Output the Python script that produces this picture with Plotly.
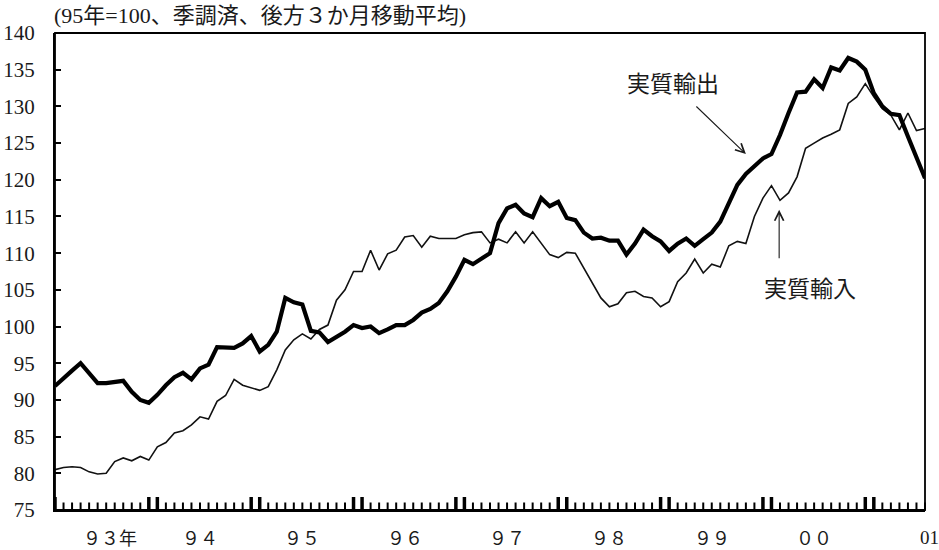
import plotly.graph_objects as go

# Monthly observations, Jan 1993 .. Jul 2001
MONTHS = [f"{1993 + k // 12}-{k % 12 + 1:02d}" for k in range(103)]

EXPORTS = [91.9, 93.0, 94.0, 95.0, 93.6, 92.3, 92.3, 92.4, 92.6, 91.1, 90.0, 89.6,
           90.7, 92.0, 93.1, 93.7, 92.8, 94.3, 94.8, 97.2, 97.1, 97.1, 97.7, 98.7,
           96.6, 97.5, 99.3, 103.9, 103.3, 103.0, 99.4, 99.2, 97.9, 98.6, 99.3, 100.2,
           99.8, 100.0, 99.1, 99.6, 100.2, 100.2, 100.9, 101.9, 102.4, 103.2, 104.8, 106.8,
           109.1, 108.5, 109.2, 110.0, 114.1, 116.1, 116.6, 115.4, 114.9, 117.5, 116.4, 117.0,
           114.8, 114.5, 112.8, 112.0, 112.1, 111.7, 111.7, 109.8, 111.3, 113.2, 112.3, 111.6,
           110.3, 111.3, 112.0, 111.0, 111.9, 112.8, 114.3, 116.8, 119.3, 120.8, 121.9, 122.9,
           123.5, 126.1, 129.1, 131.9, 132.0, 133.7, 132.5, 135.3, 134.9, 136.6, 136.1, 135.0,
           131.8, 130.0, 129.0, 128.8, 125.9, 122.9, 120.2]

IMPORTS = [80.5, 80.8, 80.9, 80.8, 80.2, 79.9, 80.0, 81.6, 82.1, 81.7, 82.3, 81.8,
           83.6, 84.2, 85.5, 85.8, 86.6, 87.7, 87.4, 89.8, 90.6, 92.8, 92.0, 91.6,
           91.3, 91.8, 94.1, 96.8, 98.2, 99.0, 98.3, 99.6, 100.2, 103.6, 105.0, 107.5,
           107.5, 110.4, 107.7, 109.9, 110.4, 112.2, 112.4, 110.8, 112.3, 112.0, 112.0, 112.0,
           112.5, 112.8, 112.9, 111.4, 111.9, 111.4, 112.9, 111.4, 112.9, 111.3, 109.8, 109.4,
           110.1, 110.0, 108.0, 105.9, 103.9, 102.7, 103.1, 104.6, 104.8, 104.1, 103.9, 102.7,
           103.4, 106.1, 107.3, 109.2, 107.3, 108.5, 108.1, 111.0, 111.6, 111.3, 115.0, 117.5,
           119.2, 117.2, 118.2, 120.4, 124.3, 125.0, 125.7, 126.2, 126.8, 130.4, 131.3, 133.1,
           131.3, 129.7, 128.8, 126.8, 129.1, 126.7, 127.0]

YEAR_LABELS = ["９３年", "９４", "９５", "９６", "９７", "９８", "９９", "００", "01"]
Y_TICKS = list(range(75, 141, 5))
TITLE = "(95年=100、季調済、後方３か月移動平均)"

W, H = 939, 550
M = dict(l=55, r=14, t=33, b=40)
plot_h = H - M["t"] - M["b"]

x = list(range(len(MONTHS)))
n = len(MONTHS)

# year boundary months (Dec and Jan) plus the start
boundary = [0] + [v for k in range(1, 9) for v in (12 * k - 1, 12 * k) if v < n]

fig = go.Figure()
fig.add_trace(go.Scatter(x=x, y=IMPORTS, mode="lines", name="実質輸入",
                         line=dict(color="#111111", width=1.6), hoverinfo="skip"))
fig.add_trace(go.Scatter(x=x, y=EXPORTS, mode="lines", name="実質輸出",
                         line=dict(color="#000000", width=4.2), hoverinfo="skip"))

# monthly tick marks and heavier year-boundary ticks standing on the time axis
# ("line-ns" markers are 1.4 x size long, centred on the point)
minor_len, major_len = 7.5, 13
fig.add_trace(go.Scatter(x=x, y=[minor_len / 2 / plot_h] * n, yaxis="y2",
                         mode="markers", cliponaxis=False, hoverinfo="skip",
                         showlegend=False,
                         marker=dict(symbol="line-ns", size=minor_len / 1.4,
                                     line=dict(color="black", width=2))))
fig.add_trace(go.Scatter(x=boundary, y=[major_len / 2 / plot_h] * len(boundary),
                         yaxis="y2", mode="markers", cliponaxis=False,
                         hoverinfo="skip", showlegend=False,
                         marker=dict(symbol="line-ns", size=major_len / 1.4,
                                     line=dict(color="black", width=3.5))))

serif = "Liberation Serif, Noto Sans CJK JP, serif"
cjk = "Noto Sans CJK JP, sans-serif"

fig.update_layout(
    width=W, height=H,
    margin=dict(**M, autoexpand=False),
    paper_bgcolor="white", plot_bgcolor="white",
    showlegend=False,
    xaxis=dict(range=[0, n - 1], showticklabels=False, ticks="",
               automargin=False, showgrid=False, zeroline=False,
               showline=True, linecolor="black", linewidth=2),
    yaxis=dict(range=[75, 140], tickmode="array", tickvals=Y_TICKS,
               ticks="inside", ticklen=6, tickwidth=2, tickcolor="black",
               showgrid=False, zeroline=False, showline=True, linecolor="black",
               linewidth=2, ticklabelstandoff=14, automargin=False,
               tickfont=dict(family=serif, size=21, color="#1a1a1a")),
    yaxis2=dict(overlaying="y", range=[0, 1], visible=False, showgrid=False,
                zeroline=False),
)

# plot frame
fig.add_shape(type="rect", xref="paper", yref="paper", x0=0, y0=0, x1=1, y1=1,
              line=dict(color="black", width=1.8), layer="above")

# year labels under the axis
label_pos = [6.4] + [12 * k + 5 for k in range(1, 8)]
for pos, lab in zip(label_pos, YEAR_LABELS[:-1]):
    fig.add_annotation(x=pos, y=0, xref="x", yref="paper", yshift=-27,
                       text=lab, showarrow=False, xanchor="center", yanchor="middle",
                       font=dict(family=cjk, size=18, color="#1a1a1a"))
fig.add_annotation(x=1, y=0, xref="paper", yref="paper", xshift=4, yshift=-27,
                   text=YEAR_LABELS[-1], showarrow=False, xanchor="center",
                   yanchor="middle", font=dict(family=serif, size=19, color="#1a1a1a"))

# title
fig.add_annotation(x=0, y=1, xref="paper", yref="paper", xshift=-3, yshift=18,
                   text=TITLE, showarrow=False, xanchor="left", yanchor="middle",
                   font=dict(family=serif, size=22, color="#1a1a1a"))

# series labels and arrows
fig.add_annotation(x=72.45, y=133.3, xref="x", yref="y", text="実質輸出",
                   showarrow=False, font=dict(family=cjk, size=23, color="#1a1a1a"))
fig.add_annotation(x=88.5, y=105.4, xref="x", yref="y", text="実質輸入",
                   showarrow=False, font=dict(family=cjk, size=23, color="#1a1a1a"))
fig.add_annotation(x=81.0, y=123.5, xref="x", yref="y", text="", showarrow=True,
                   ax=-51, ay=-49, arrowhead=5, arrowsize=1.6, arrowwidth=1.1,
                   arrowcolor="#1a1a1a")
fig.add_annotation(x=84.9, y=115.9, xref="x", yref="y", text="", showarrow=True,
                   ax=0, ay=50, arrowhead=5, arrowsize=1.6, arrowwidth=1.1,
                   arrowcolor="#1a1a1a")

fig.write_html("out.html", config={"displayModeBar": False},
               post_script="document.body.style.margin='0';")
